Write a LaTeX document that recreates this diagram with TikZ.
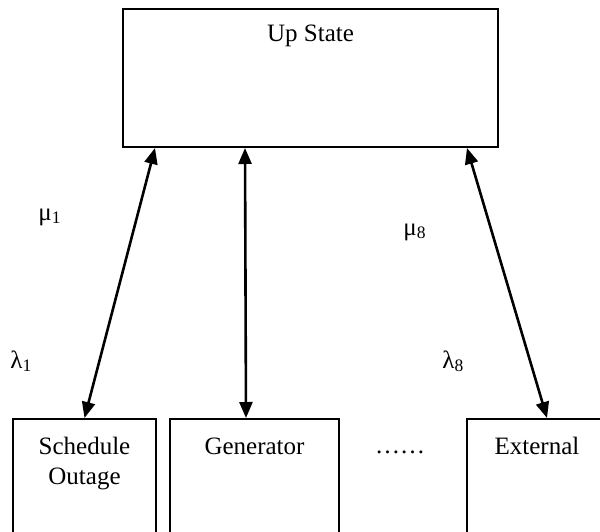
\documentclass[tikz,border=0pt]{standalone}
\usepackage{fontspec}
\setmainfont{Liberation Serif}
\usetikzlibrary{arrows.meta}

\begin{document}
\begin{tikzpicture}[x=0.5pt, y=-0.5pt,
    every node/.style={font=\fontsize{12.5}{15}\selectfont},
    state/.style={draw, line width=1pt, inner sep=0pt, anchor=north west,
      text height=17.5pt, text depth=41.5pt},
    rate/.style={anchor=base west, inner sep=0pt},
    link/.style={{Triangle[length=8pt,width=6.5pt]}-{Triangle[length=8pt,width=6.5pt]}, line width=1.3pt}]
  \useasboundingbox (0,0) rectangle (600,531);

  % upper state
  \node[state, minimum width=187.5pt, text height=16pt, text depth=53pt] (up) at (122,8) {Up State};

  % component states
  \node[state, minimum width=71.5pt, text width=71.5pt, align=center] (sched) at (12,418) {Schedule\\Outage};
  \node[state, minimum width=84.5pt] (gen) at (169,418) {Generator};
  \node[state, minimum width=70pt] (ext) at (466,418) {External};
  \node[anchor=base, inner sep=0pt] (dots) at (400,453) {\ldots\ldots};

  % transitions
  \draw[link] ([xshift=16.5pt]up.south west) -- (sched.north);
  \draw[link] ([xshift=61.5pt]up.south west) -- ([xshift=-4.25pt]gen.north);
  \draw[link] ([xshift=172.5pt]up.south west) -- ([xshift=5pt]ext.north);

  \node[rate] (mu1) at (38,220) {μ\textsubscript{1}};
  \node[rate] (la1) at (10,368) {λ\textsubscript{1}};
  \node[rate] (mu8) at (403,235) {μ\textsubscript{8}};
  \node[rate] (la8) at (442,368) {λ\textsubscript{8}};
\end{tikzpicture}
\end{document}
